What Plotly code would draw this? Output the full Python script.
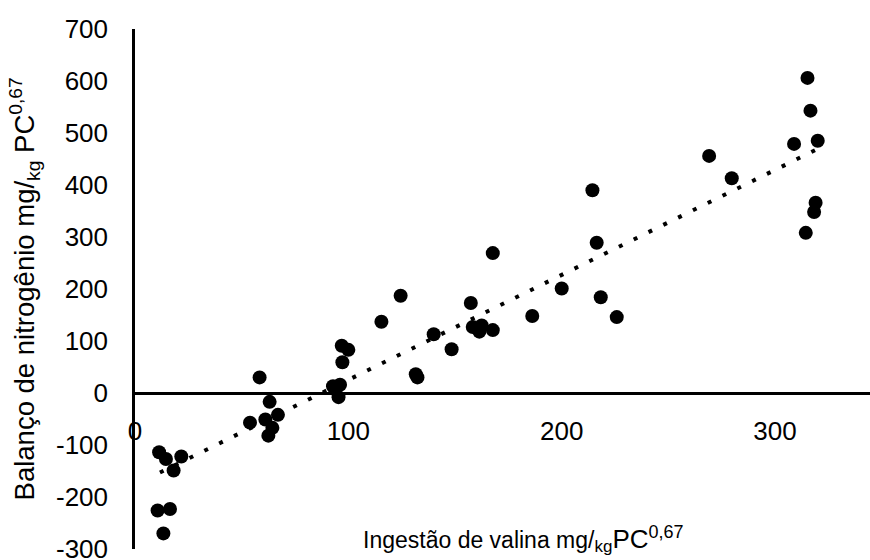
import plotly.graph_objects as go

# Data
valine_intake = [11.3, 14.5, 21.7, 18.1, 10.6, 16.4, 13.3,
                 58.4, 63.1, 67.0, 53.9, 61.1, 64.4, 62.5,
                 96.9, 100.0, 97.2, 92.8, 96.1, 95.4,
                 115.5, 124.5, 131.6, 132.4, 140.0, 148.4,
                 157.4, 158.3, 162.5, 161.4, 167.7, 167.7,
                 186.2, 200.0, 214.4, 216.4, 218.3, 225.8,
                 269.1, 279.7, 308.9, 315.2, 316.6, 320.0,
                 319.0, 318.3, 314.4]
nitrogen_balance = [-114, -127, -122, -149, -226, -223, -270,
                    30, -17, -42, -57, -51, -67, -82,
                    91, 83, 59, 13, 16, -8,
                    137, 187, 36, 30, 113, 84,
                    173, 127, 130, 118, 121, 269,
                    148, 201, 390, 289, 184, 146,
                    456, 413, 479, 606, 543, 485,
                    366, 348, 308]

trend_x = [11.7, 319.8]
trend_y = [-153, 469]

y_ticks = [-300, -200, -100, 0, 100, 200, 300, 400, 500, 600, 700]
y_tick_labels = ["-300", "-200", "-100", "0", "100", "200", "300", "400", "500", "600", "700"]
x_ticks = [0, 100, 200, 300]
x_tick_labels = ["0", "100", "200", "300"]

FONT = "Liberation Sans, Arial, sans-serif"

x_title = ("Ingestão de valina mg/<sub><span style='font-size:17px'>kg</span></sub>"
           "<span style='font-size:26px'>PC</span>"
           "<sup><span style='font-size:18px'>0,67</span></sup>")
y_title = "Balanço de nitrogênio mg/<sub>kg</sub> PC<sup>0,67</sup>"

fig = go.Figure()
fig.add_trace(go.Scatter(
    x=trend_x, y=trend_y, mode="lines",
    line=dict(color="black", width=4, dash="4px,12.5px"),
    hoverinfo="skip", showlegend=False))
fig.add_trace(go.Scatter(
    x=valine_intake, y=nitrogen_balance, mode="markers",
    marker=dict(color="black", size=14, line=dict(width=0)),
    showlegend=False))

fig.update_layout(
    width=870, height=560,
    margin=dict(l=135, r=0, t=29, b=11, pad=0, autoexpand=False),
    paper_bgcolor="white", plot_bgcolor="white",
    font=dict(family=FONT, color="black", size=26),
    xaxis=dict(range=[0, 344.5], showline=True, linecolor="black", linewidth=2.5,
               anchor="free", position=0.3, ticks="", showgrid=False, zeroline=False,
               tickvals=x_ticks, ticktext=x_tick_labels, automargin=False,
               tickfont=dict(size=26, family=FONT, color="black"),
               ticklabelstandoff=14, ticklabeloverflow="allow"),
    yaxis=dict(range=[-300, 700], showline=True, linecolor="black", linewidth=2.5,
               ticks="", showgrid=False, zeroline=False, automargin=False,
               tickvals=y_ticks, ticktext=y_tick_labels,
               tickfont=dict(size=26, family=FONT, color="black"),
               ticklabelstandoff=19, ticklabeloverflow="allow"),
    annotations=[
        dict(text=x_title,
             xref="paper", yref="paper", x=0.529, y=0.02,
             xanchor="center", yanchor="middle", showarrow=False,
             font=dict(size=23, family=FONT, color="black")),
        dict(text=y_title,
             xref="paper", yref="paper", x=-0.1497, y=0.501, textangle=-90,
             xanchor="center", yanchor="middle", showarrow=False,
             font=dict(size=27.5, family=FONT, color="black")),
    ],
)

fig.write_html("out.html")
